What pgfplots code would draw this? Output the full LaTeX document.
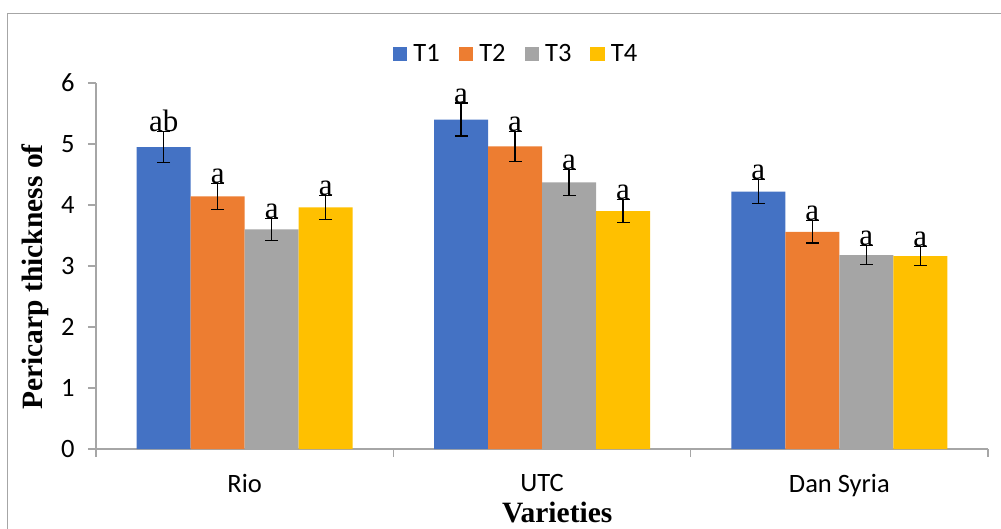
\documentclass[border=0pt]{standalone}
\usepackage{pgfplots}
\pgfplotsset{compat=1.18}
\usepackage{pgfplotstable}
\usepackage{fontspec}
\setmainfont{Liberation Serif}
\newfontfamily\calib{Carlito}
\definecolor{cT1}{HTML}{4472C4}
\definecolor{cT2}{HTML}{ED7D31}
\definecolor{cT3}{HTML}{A5A5A5}
\definecolor{cT4}{HTML}{FFC000}
\definecolor{axisC}{HTML}{A6A6A6}
\definecolor{frameC}{HTML}{A6A6A6}

\pgfplotstableread{
x y err lab
0 4.95 0.25 ab
1 5.40 0.27 a
2 4.22 0.20 a
}\tone
\pgfplotstableread{
x y err lab
0 4.14 0.21 a
1 4.96 0.25 a
2 3.56 0.185 a
}\ttwo
\pgfplotstableread{
x y err lab
0 3.60 0.18 a
1 4.37 0.215 a
2 3.18 0.155 a
}\tthree
\pgfplotstableread{
x y err lab
0 3.96 0.20 a
1 3.90 0.19 a
2 3.16 0.155 a
}\tfour

\pgfplotsset{
  sqleg/.style={legend image code/.code={\fill[##1,draw=none] (0pt,-7pt) rectangle (14.5pt,7.5pt);}},
}

\begin{document}
\begin{tikzpicture}[x=1pt,y=1pt]
\useasboundingbox (0,0) rectangle (1001,528);
\draw[color=frameC, line width=1.5pt] (7.5,514.5) rectangle (1030,-30);
\begin{axis}[
  at={(96pt,79pt)}, anchor=south west,
  scale only axis, width=892pt, height=366pt,
  ybar=0pt, bar width=54pt,
  xmin=-0.5, xmax=2.5, ymin=0, ymax=6,
  ytick={0,1,2,3,4,5,6},
  xtick={-0.5,0.5,1.5,2.5}, xticklabels={},
  extra x ticks={0,1,2}, extra x tick labels={Rio,UTC,Dan Syria},
  extra x tick style={major tick length=0pt},
  axis x line*=bottom, axis y line*=left,
  axis line style={draw=axisC, line width=1.3pt, -},
  tick style={draw=axisC, line width=1.3pt},
  major tick length=8pt, tick align=outside,
  clip=false,
  /pgf/number format/assume math mode=true,
  tick label style={font=\fontsize{26.5}{29}\selectfont\calib},
  yticklabel style={xshift=-10pt},
  xticklabel style={yshift=-22pt},
  ylabel={Pericarp thickness of},
  xlabel={Varieties},
  every axis y label/.style={at={(axis description cs:-0.0684,0.470)}, rotate=90, anchor=center, font=\fontsize{29.5}{32}\selectfont\bfseries},
  every axis x label/.style={at={(axis description cs:0.517,-0.1995)}, anchor=base, font=\fontsize{29.5}{32}\selectfont\bfseries},
  legend columns=4,
  legend style={draw=none, fill=none, at={(axis description cs:0.471,1.079)}, anchor=center,
    font=\fontsize{26.5}{29}\selectfont\calib,
    /tikz/every odd column/.append style={column sep=4pt},
    /tikz/every even column/.append style={column sep=17pt}},
  point meta=explicit symbolic,
  nodes near coords,
  visualization depends on={\thisrow{err}\as\myerr},
  every node near coord/.append style={anchor=base, shift={(axis direction cs:0,\myerr)}, font=\fontsize{31}{33}\selectfont, black, inner sep=0pt},
  error bars/error bar style={black, line width=1.3pt},
  error bars/error mark options={black, rotate=90, mark size=6.5pt, line width=1.3pt},
]
\addplot[fill=cT1, draw=none, sqleg, error bars/.cd, y dir=both, y explicit] table[x=x, y=y, y error=err, meta=lab]{\tone};
\addplot[fill=cT2, draw=none, sqleg, error bars/.cd, y dir=both, y explicit] table[x=x, y=y, y error=err, meta=lab]{\ttwo};
\addplot[fill=cT3, draw=none, sqleg, error bars/.cd, y dir=both, y explicit] table[x=x, y=y, y error=err, meta=lab]{\tthree};
\addplot[fill=cT4, draw=none, sqleg, error bars/.cd, y dir=both, y explicit] table[x=x, y=y, y error=err, meta=lab]{\tfour};
\legend{T1,T2,T3,T4}
\end{axis}
\end{tikzpicture}
\end{document}
